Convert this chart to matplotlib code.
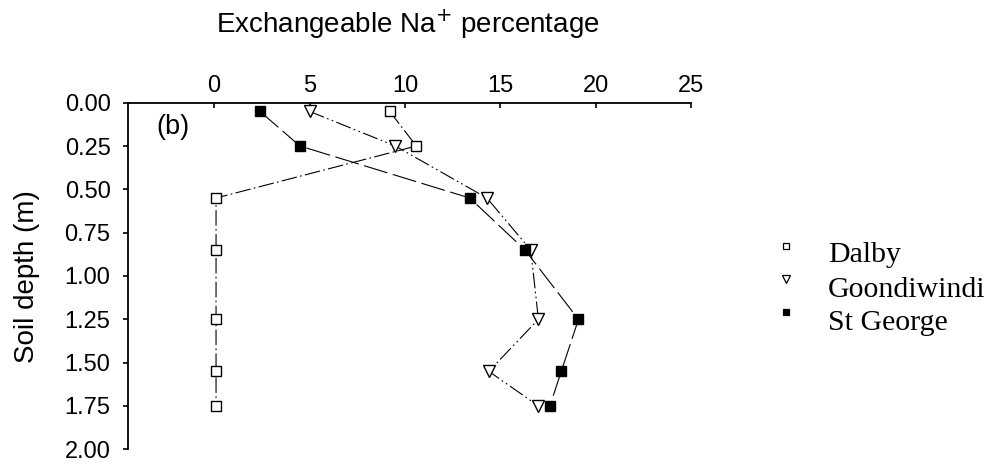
import matplotlib
matplotlib.use("Agg")
import matplotlib.pyplot as plt
from matplotlib.lines import Line2D

depth = [0.05, 0.25, 0.55, 0.85, 1.25, 1.55, 1.75]
series_names = ["Dalby", "Goondiwindi", "St George"]
dalby = [9.2, 10.6, 0.1, 0.1, 0.1, 0.1, 0.1]
goondiwindi = [5.0, 9.5, 14.3, 16.6, 17.0, 14.4, 17.0]
st_george = [2.4, 4.5, 13.4, 16.3, 19.1, 18.2, 17.6]
x_ticks = [0, 5, 10, 15, 20, 25]
y_ticks = [0.00, 0.25, 0.50, 0.75, 1.00, 1.25, 1.50, 1.75, 2.00]

plt.rcParams['font.family'] = ['Liberation Sans', 'DejaVu Sans']

W, H = 1004, 465
fig = plt.figure(figsize=(W / 100, H / 100), dpi=100)
ax = fig.add_axes([128.3 / W, 1 - 449.3 / H, (691 - 128.3) / W, (449.3 - 102.7) / H])

styles = [
    dict(marker='s', mfc='white', ls=(0, (14, 3, 1.5, 3)), ms=7.5, lms=5.0),
    dict(marker='v', mfc='white', ls=(0, (14, 3, 1.5, 3, 1.5, 3)), ms=8.5, lms=5.5),
    dict(marker='s', mfc='black', ls=(0, (22, 5)), ms=7.5, lms=5.0),
]
data = [dalby, goondiwindi, st_george]
for vals, st in zip(data, styles):
    ax.plot(vals, depth, color='black', lw=0.8, ls=st['ls'], marker=st['marker'],
            ms=st['ms'], mfc=st['mfc'], mec='black', mew=1.0, zorder=3)

ax.set_xlim(-4.5, 25)
ax.set_ylim(2.0, 0.0)
ax.xaxis.tick_top()
ax.set_xticks(x_ticks)
ax.set_xticklabels([str(v) for v in x_ticks])
ax.set_yticks(y_ticks)
ax.set_yticklabels([f"{v:.2f}" for v in y_ticks])
for s in ['right', 'bottom']:
    ax.spines[s].set_visible(False)
for s in ['left', 'top']:
    ax.spines[s].set_linewidth(1.3)
ax.tick_params(axis='x', direction='in', length=3.8, width=1.2, labelsize=17, pad=4)
ax.tick_params(axis='y', direction='out', length=3.8, width=1.2, labelsize=17, pad=9)
ax.text(-3.03, 0.143, "(b)", fontsize=19.5, va='center', ha='left')

fig.text(408 / W, 1 - 33 / H, "Exchangeable Na$^{+}$ percentage", fontsize=20,
         ha='center', va='baseline')
fig.text(27 / W, 1 - 277 / H, "Soil depth (m)", fontsize=20, rotation=90,
         ha='center', va='center')

# legend
text_base = [261.7, 296.7, 330.0]
mark_y = [245.7, 279.3, 311.7]
for name, st, ty, my in zip(series_names, styles, text_base, mark_y):
    fig.add_artist(Line2D([786 / W], [1 - my / H], transform=fig.transFigure,
                          marker=st['marker'], ms=st['lms'], mfc=st['mfc'], mec='black',
                          mew=0.9, ls='none'))
    fig.text(828 / W, 1 - ty / H, name, fontsize=21.5, family=['Liberation Serif'],
             va='baseline', ha='left')

fig.savefig("out.png", dpi=100)
